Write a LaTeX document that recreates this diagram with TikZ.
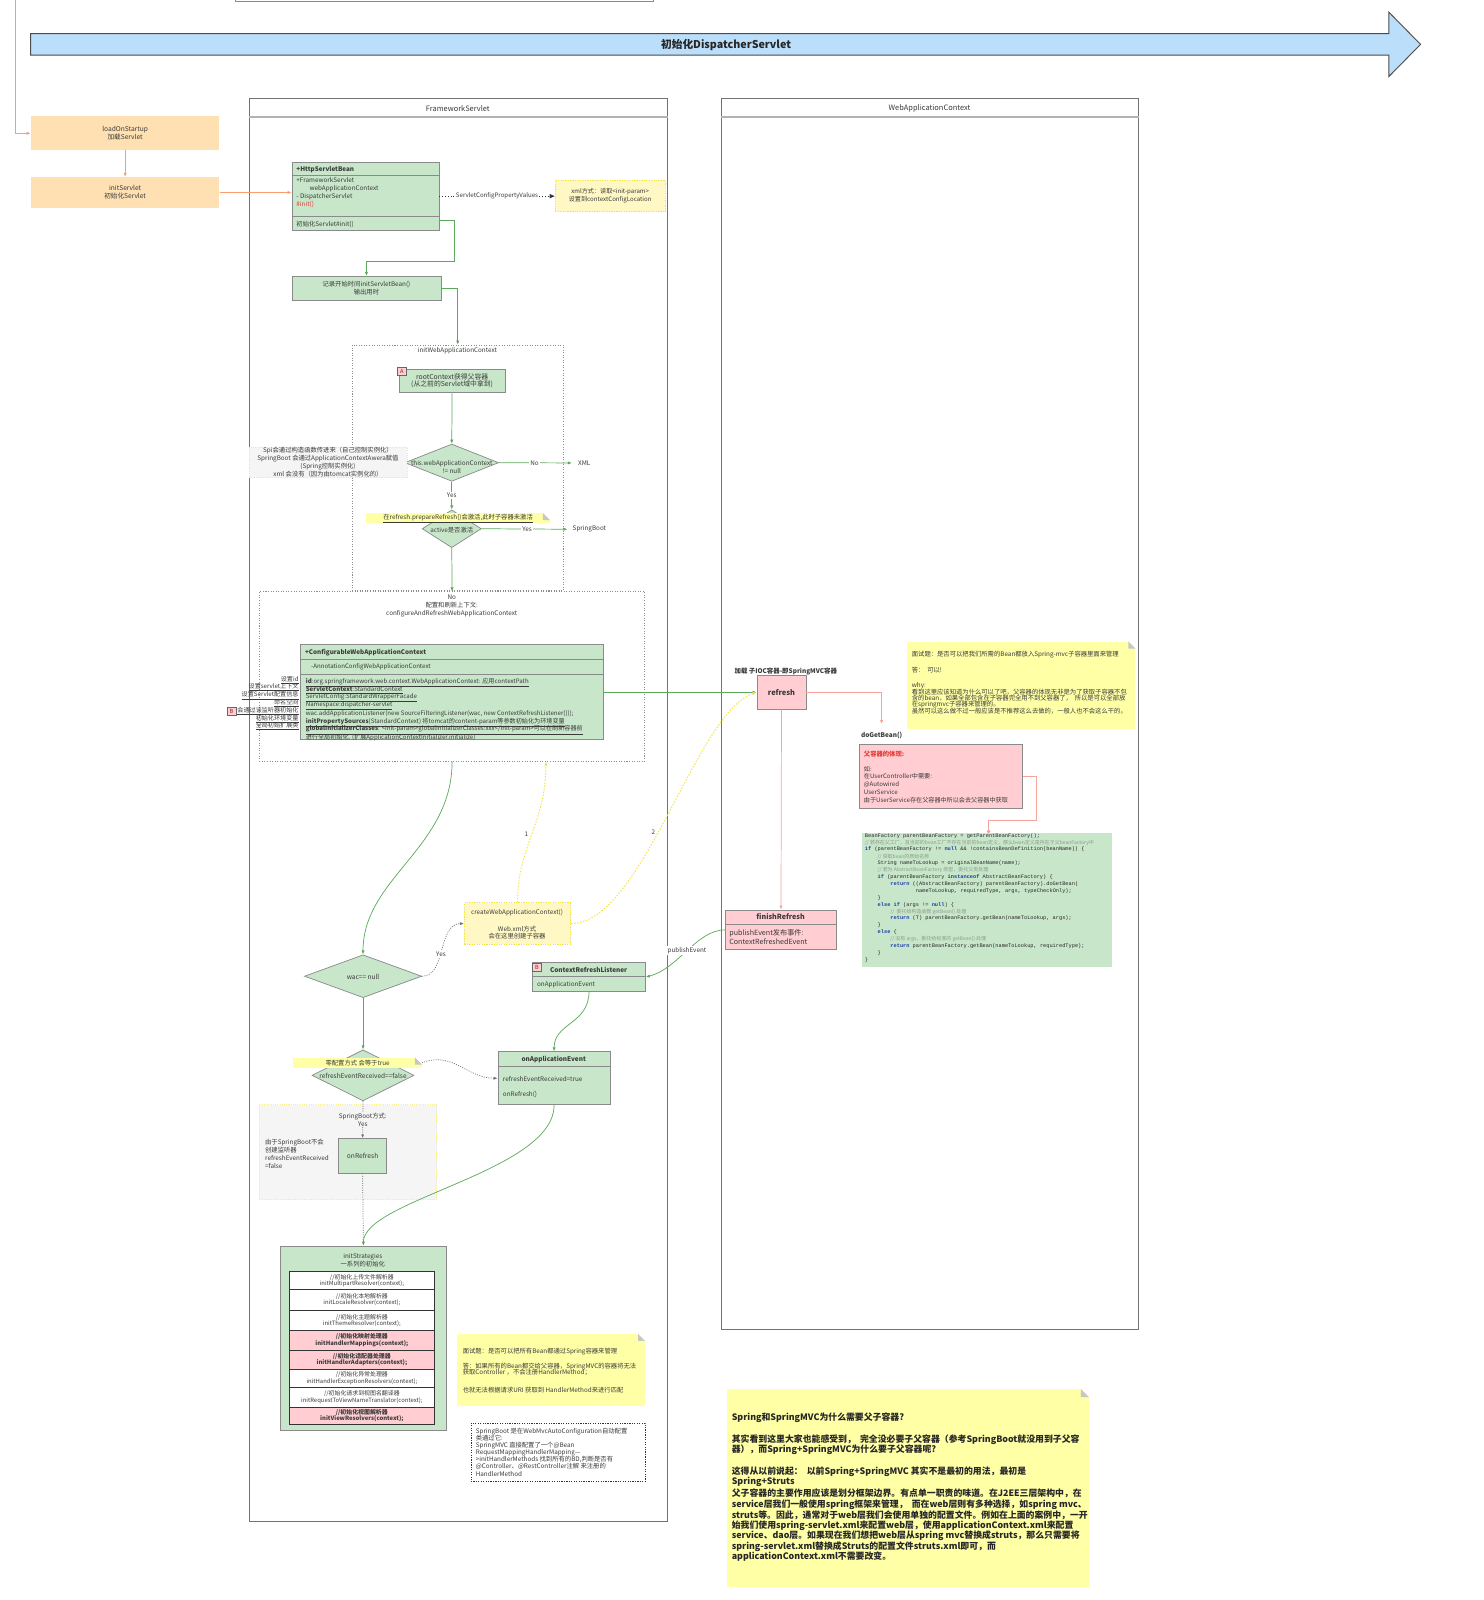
\documentclass[tikz,border=0pt]{standalone}
\usepackage{fontspec}
\setmainfont{Noto Sans CJK SC}
\newfontfamily\codefont{Liberation Mono}
\newfontfamily\cjkfont{Noto Sans CJK SC}
\usetikzlibrary{shapes.geometric,arrows.meta,calc}
\definecolor{gfill}{HTML}{C8E6C9}
\definecolor{gline}{HTML}{5BAA5B}
\definecolor{bgray}{HTML}{8A8A8A}
\definecolor{pfill}{HTML}{FFCDD2}
\definecolor{salmon}{HTML}{F5A49C}
\definecolor{ofill}{HTML}{FFE0B2}
\definecolor{oline}{HTML}{F6A071}
\definecolor{notey}{HTML}{FFFFA6}
\definecolor{bfill}{HTML}{BBDEFB}
\definecolor{ydash}{HTML}{F0E442}
\definecolor{xfill}{HTML}{FFF8C4}
\definecolor{gryfill}{HTML}{F5F5F5}
\definecolor{txt}{HTML}{3A3A3A}
\definecolor{kw}{HTML}{1A3FA8}
\definecolor{cm}{HTML}{8C9C8C}
\definecolor{redtxt}{HTML}{E53935}
\newcommand{\ckw}[1]{\textcolor{kw}{\bfseries #1}}
\newcommand{\ccm}[1]{\textcolor{cm}{\cjkfont\fontsize{4.9}{6}\selectfont #1}}
\newcommand{\notefold}[2]{%
  \fill[white] ($(#1.north east)+(-#2,0)$) -- (#1.north east) -- ($(#1.north east)+(0,#2)$) -- cycle;
  \fill[black!22] ($(#1.north east)+(-#2,0)$) -- ($(#1.north east)+(0,#2)$) -- ($(#1.north east)+(-#2,#2)$) -- cycle;}
\newcommand{\mysep}[2]{\draw[draw=bgray, line width=0.7pt] ($(#1.north west)+(0,#2)$) -- ($(#1.north east)+(0,#2)$);}
\tikzset{
  every node/.style={text=txt, inner sep=0pt, font=\fontsize{6.2}{7.8}\selectfont},
  rbox/.style={draw=bgray, line width=0.7pt, anchor=north west},
  gbox/.style={rbox, fill=gfill},
  pbox/.style={rbox, fill=pfill},
  obox/.style={anchor=north west, fill=ofill},
  ynote/.style={anchor=north west, fill=notey},
  lanebox/.style={anchor=north west, draw=black!55, line width=0.8pt},
  grp/.style={anchor=north west, draw=black!45, dash pattern=on 1pt off 1.5pt, line width=0.7pt},
  ddiam/.style={diamond, draw=bgray, fill=gfill, line width=0.7pt},
  tagbox/.style={anchor=north west, draw=black!60, fill=pfill, line width=0.5pt, minimum width=8.5pt, minimum height=8pt, font=\fontsize{5.5}{6}\selectfont, text=black!70},
  arrtip/.style={-{Latex[length=4pt,width=3.2pt]}},
  gar/.style={draw=gline, line width=0.7pt, arrtip},
  sar/.style={draw=salmon, line width=0.7pt, arrtip},
  oar/.style={draw=oline, line width=0.6pt, arrtip},
  dar/.style={draw=black!55, dash pattern=on 1pt off 1.3pt, line width=0.7pt, arrtip},
  yar/.style={draw=ydash, dash pattern=on 1.5pt off 1.5pt, line width=0.9pt, -{Latex[length=4pt,width=3.2pt]}},
  lbl/.style={fill=white, inner sep=1pt},
  cline/.style={anchor=west, font=\codefont\fontsize{5.2}{6}\selectfont, text=black!85},
  rowbox/.style={anchor=north west, draw=black!80, line width=0.6pt, fill=white, minimum width=142.5pt, align=center, font=\fontsize{5.8}{6.3}\selectfont},
  prow/.style={rowbox, fill=pfill, font=\bfseries\fontsize{5.8}{6.3}\selectfont},
  lw/.style={anchor=west},
  bignote/.style={anchor=west, font=\bfseries\fontsize{8.7}{10}\selectfont, text=black!85},
}
\begin{document}
\begin{tikzpicture}[x=1pt,y=-1pt]
\useasboundingbox (0,0) rectangle (1455,1569);
\fill[white] (0,0) rectangle (1455,1569);

% top fragment
\node[rbox, fill=white, minimum width=410pt, minimum height=10pt, anchor=south west] (topbox) at (230,2) {};

% big blue arrow
\draw[fill=bfill, draw=black!70, line width=0.9pt] (30,33) -- (1362,33) -- (1362,12) -- (1393,43.5) -- (1362,75) -- (1362,54) -- (30,54) -- cycle;
\node[font=\bfseries\fontsize{10.5}{12}\selectfont, text=black!85] (title) at (712,44) {初始化DispatcherServlet};

% lanes
\node[lanebox, minimum width=410pt, minimum height=1396pt] (fw) at (244,96) {};
\draw[black!30, line width=1.6pt] ($(fw.north west)+(0,18.6)$) -- ($(fw.north east)+(0,18.6)$);
\node[font=\fontsize{7.3}{8}\selectfont] at (449,106) {FrameworkServlet};
\node[lanebox, minimum width=409pt, minimum height=1207pt] (wl) at (707,96) {};
\draw[black!30, line width=1.6pt] ($(wl.north west)+(0,18.6)$) -- ($(wl.north east)+(0,18.6)$);
\node[font=\fontsize{7.3}{8}\selectfont] at (911.5,106) {WebApplicationContext};

% orange boxes
\node[obox, minimum width=185pt, minimum height=33pt, align=center, font=\fontsize{6.5}{7.8}\selectfont] (load) at (30,114) {loadOnStartup\\加载Servlet};
\node[obox, minimum width=185pt, minimum height=30pt, align=center, font=\fontsize{6.5}{7.8}\selectfont] (init) at (30,173.5) {initServlet\\初始化Servlet};
\coordinate (otop) at (15.3,-2);
\draw[oar] (otop) |- (load.west);
\draw[oar] (load.south) -- (init.north);

% HttpServletBean
\node[gbox, minimum width=144pt, minimum height=67pt] (hsb) at (286,158.5) {};
\mysep{hsb}{13.5}
\mysep{hsb}{54}
\node[lw, font=\bfseries\fontsize{6.2}{7}\selectfont] at (290.5,166.3) {+HttpServletBean};
\node[lw] at (290.5,177) {+FrameworkServlet};
\node[lw] at (303.3,185) {webApplicationContext};
\node[lw] at (290.5,192.8) {- DispatcherServlet};
\node[lw, text=redtxt] at (290.5,200.3) {\#init()};
\node[lw] at (290.5,220) {初始化Servlet\#init()};
\draw[oar] (init.east) -- (init.east -| hsb.west);

% xml note
\node[anchor=north west, fill=xfill, draw=ydash, dash pattern=on 1.2pt off 1.2pt, line width=0.8pt, minimum width=108pt, minimum height=30.5pt, align=center, font=\fontsize{6}{7.5}\selectfont] (xml) at (544,176.5) {xml方式：读取<init-param>\\设置到contextConfigLocation};
\draw[dotted, black!80, line width=0.8pt, -{Triangle[length=5pt,width=4pt]}] (hsb.east) -- (hsb.east -| xml.west) node[midway, lbl, font=\fontsize{6}{7}\selectfont] {ServletConfigPropertyValues};

% record box
\node[gbox, minimum width=146pt, minimum height=23.5pt, align=center, font=\fontsize{6.2}{7.9}\selectfont] (rec) at (286,270.6) {记录开始时间initServletBean()\\输出用时};
\draw[gar] ($(hsb.south east)+(0,-9.8)$) -- ++(14.7,0) -- ++(0,40.3) -| (rec.north);

% group 1
\node[grp, minimum width=207pt, minimum height=241pt] (g1) at (345,338) {};
\node at (448.5,344) {initWebApplicationContext};
\draw[gar] (rec.east) -| (g1.north);

\node[gbox, minimum width=104pt, minimum height=22.6pt, align=center, font=\fontsize{6.7}{7.3}\selectfont] (root) at (391,361.8) {rootContext获得父容器\\(从之前的Servlet域中拿到)};
\node[tagbox, text=redtxt!60!black] (tagA) at (389.5,360) {A};

\node[ddiam, minimum width=92pt, minimum height=36.5pt] (d1) at (443,453.7) {};
\node[align=center, font=\fontsize{6.2}{7.6}\selectfont] at (443,458) {this.webApplicationContext\\!= null};
\draw[gar] (root.south) -- (d1.north);

\node[anchor=north west, fill=gryfill, draw=ydash!70, dash pattern=on 1pt off 1.2pt, line width=0.6pt, minimum width=154.7pt, minimum height=30pt, align=center, font=\fontsize{6.2}{7.9}\selectfont] (spi) at (244,438) {Spi会通过构造函数传进来（自己控制实例化）\\SpringBoot 会通过ApplicationContextAwera赋值\\(Spring控制实例化)\\xml 会没有（因为由tomcat实例化的）};

\node (xmlt) at (573,454) {XML};
\draw[gar, shorten >=6pt] (d1.east) -- (xmlt.west) node[pos=0.45, lbl] {No};

\node[ddiam, minimum width=58pt, minimum height=37pt] (d2) at (443,518.5) {};
\node at (443,520) {active是否激活};
\draw[gar] (d1.south) -- (d2.north) node[midway, lbl] {Yes};
\node[anchor=north west, fill=notey, minimum width=180pt, minimum height=10pt] (band1) at (359,503) {\underline{在refresh.prepareRefresh()会激活,此时子容器未激活}};
\notefold{band1}{7}
\node (sbt) at (578,519) {SpringBoot};
\draw[gar, shorten >=5pt] (d2.east) -- (sbt.west) node[pos=0.5, lbl] {Yes};

% group 2
\node[grp, minimum width=378pt, minimum height=166pt] (g2) at (254,580) {};
\draw[gar] (d2.south) -- (g2.north);
\node[align=center, font=\fontsize{6.2}{7.6}\selectfont] at (443,594) {No\\配置和刷新上下文:\\configureAndRefreshWebApplicationContext};

\node[gbox, minimum width=297pt, minimum height=93pt] (cwac) at (294,632) {};
\mysep{cwac}{15}
\mysep{cwac}{29}
\node[lw, font=\bfseries\fontsize{6.2}{7}\selectfont] at (299,640) {+ConfigurableWebApplicationContext};
\node[lw, font=\fontsize{6}{7}\selectfont] at (305,654) {-AnnotationConfigWebApplicationContext};
\begin{scope}[every node/.append style={lw, font=\fontsize{6}{7}\selectfont}]
\node at (299.7,669) {\underline{{\bfseries id}:org.springframework.web.context.WebApplicationContext: 应用contextPath}};
\node at (299.7,676.7) {\underline{{\bfseries ServletContext}:StandardContext}};
\node at (299.7,684.5) {\underline{ServletConfig:StandardWrapperFacade}};
\node at (299.7,692.4) {\underline{Namespace:dispatcher-servlet}};
\node at (299.7,700.3) {wac.addApplicationListener(new SourceFilteringListener(wac, new ContextRefreshListener()));};
\node at (299.7,708.2) {\underline{{\bfseries initPropertySources}(StandardContext) 将tomcat的content-param等参数初始化为环境变量}};
\node at (299.7,716) {\underline{{\bfseries globalInitializerClasses}: <init-param>globalInitializerClasses:xxx</init-param>可以在刷新容器前}};
\node at (299.7,723.3) {进行全局初始化. (扩展ApplicationContextInitializer.initialize)};
\end{scope}
\begin{scope}[every node/.append style={anchor=east, font=\fontsize{6}{7}\selectfont}]
\node at (293,666.7) {\underline{设置id}};
\node at (293,674) {\underline{设置servlet上下文}};
\node at (293,682) {\underline{设置Servlet配置信息}};
\node at (293,689.3) {\underline{命名空间}};
\node at (293,697) {\underline{会通过该监听器初始化}};
\node at (293,705) {\underline{初始化环境变量}};
\node at (293,712.3) {\underline{全局初始扩展类}};
\end{scope}
\node[tagbox, text=redtxt!60!black] (tagB1) at (222.5,693) {B};

% refresh
\node[pbox, minimum width=48pt, minimum height=33pt, font=\bfseries\fontsize{7.3}{9}\selectfont] (refresh) at (742,662) {refresh};
\node[font=\bfseries\fontsize{6.3}{7}\selectfont] (refl) at (770.6,658) {加载 子IOC容器-即SpringMVC容器};
\draw[gar] (refresh.west -| cwac.east) -- (refresh.west);

\node[font=\bfseries\fontsize{6.3}{7}\selectfont] (dgbt) at (864.5,721.6) {doGetBean()};
\draw[sar, shorten >=8pt] (refresh.east) -| (dgbt.north);

\node[pbox, minimum width=160pt, minimum height=63pt] (dgb) at (842,729.4) {};
\node[lw, text=redtxt, font=\bfseries\fontsize{6.2}{7}\selectfont] at (847,739.2) {父容器的体现:};
\begin{scope}[every node/.append style={lw, font=\fontsize{6}{7}\selectfont}]
\node at (847,754.2) {如:};
\node at (847,761.6) {在UserController中需要:};
\node at (847,769.3) {@Autowired};
\node at (847,777) {UserService};
\node at (847,785) {由于UserService存在父容器中所以会去父容器中获取};
\end{scope}

% top-right note
\node[ynote, minimum width=224pt, minimum height=86pt] (n1) at (889,629) {};
\notefold{n1}{7}
\begin{scope}[every node/.append style={lw, font=\fontsize{6.2}{7}\selectfont}]
\node at (894,641.5) {面试题：是否可以把我们所需的Bean都放入Spring-mvc子容器里面来管理};
\node at (894,657.5) {答：\ \ 可以!};
\node at (894,672.5) {why:};
\node at (894,678.7) {看到这里应该知道为什么可以了吧，父容器的体现无非是为了获取子容器不包};
\node at (894,684.9) {含的bean，如果全部包含在子容器完全用不到父容器了，\ \ 所以是可以全部放};
\node at (894,691.1) {在springmvc子容器来管理的。};
\node at (894,697.3) {虽然可以这么做不过一般应该是不推荐这么去做的，一般人也不会这么干的。};
\end{scope}

% code block
\node[anchor=north west, fill=gfill, minimum width=245pt, minimum height=132pt] (code) at (845,816.5) {};
\draw[salmon, line width=0.7pt, -{Circle[length=3.5pt]}] (dgb.east) -- ++(13.8,0) -- ++(0,43.2) -- ++(-47.1,0) -- ++(0,12.6);
\begin{scope}
\clip (code.north west) rectangle (code.south east);
\node[cline] at (848,819.6) {BeanFactory parentBeanFactory = getParentBeanFactory();};
\node[cline] at (848,826.35) {\ccm{// 若存在父工厂，且当前的bean工厂不存在当前的bean定义，那么bean定义是存在于父beanFactory中}};
\node[cline] at (848,833.1) {\ckw{if} (parentBeanFactory != \ckw{null} \&\& !containsBeanDefinition(beanName)) \{};
\node[cline] at (860.5,839.85) {\ccm{// 获取bean的原始名称}};
\node[cline] at (860.5,846.6) {String nameToLookup = originalBeanName(name);};
\node[cline] at (860.5,853.35) {\ccm{// 若为 AbstractBeanFactory 类型，委托父类处理}};
\node[cline] at (860.5,860.1) {\ckw{if} (parentBeanFactory \ckw{instanceof} AbstractBeanFactory) \{};
\node[cline] at (873,866.85) {\ckw{return} ((AbstractBeanFactory) parentBeanFactory).doGetBean(};
\node[cline] at (898,873.6) {nameToLookup, requiredType, args, typeCheckOnly);};
\node[cline] at (860.5,880.35) {\}};
\node[cline] at (860.5,887.1) {\ckw{else} \ckw{if} (args != \ckw{null}) \{};
\node[cline] at (873,893.85) {\ccm{//\ \ 委托给构造函数 getBean() 处理}};
\node[cline] at (873,900.6) {\ckw{return} (T) parentBeanFactory.getBean(nameToLookup, args);};
\node[cline] at (860.5,907.35) {\}};
\node[cline] at (860.5,914.1) {\ckw{else} \{};
\node[cline] at (873,920.85) {\ccm{// 没有 args，委托给标准的 getBean() 处理}};
\node[cline] at (873,927.6) {\ckw{return} parentBeanFactory.getBean(nameToLookup, requiredType);};
\node[cline] at (860.5,934.35) {\}};
\node[cline] at (848,941.1) {\}};
\end{scope}

% finishRefresh
\node[pbox, minimum width=109pt, minimum height=39pt] (fr) at (711,892) {};
\mysep{fr}{14}
\node[font=\bfseries\fontsize{7}{8}\selectfont] at (765.5,899) {finishRefresh};
\node[lw, font=\fontsize{7}{8}\selectfont] at (715,915) {publishEvent发布事件:};
\node[lw, font=\fontsize{7}{8}\selectfont] at (715,923) {ContextRefreshedEvent};
\draw[sar] (refresh.south) -- (fr.north);

% ContextRefreshListener
\node[gbox, minimum width=110.5pt, minimum height=27.8pt] (crl) at (522,943.8) {};
\mysep{crl}{13.7}
\node[font=\bfseries\fontsize{6.3}{7}\selectfont] at (577.2,951) {ContextRefreshListener};
\node[lw] at (526.5,965.7) {onApplicationEvent};
\node[tagbox, text=redtxt!60!black] (tagB2) at (522,944.4) {B};
\draw[gar] (fr.west) .. controls +(-28,0) and +(32,-8) .. (crl.east) node[midway, lbl] {publishEvent};

% onApplicationEvent
\node[gbox, minimum width=110pt, minimum height=52pt] (oae) at (488,1031) {};
\mysep{oae}{14.8}
\node[font=\bfseries\fontsize{6.3}{7}\selectfont] at (543,1039) {onApplicationEvent};
\node[lw] at (493,1057.8) {refreshEventReceived=true};
\node[lw] at (493,1072.9) {onRefresh()};
\draw[gar] (crl.south) .. controls +(0,32) and +(0,-28) .. (oae.north);

% wac diamond
\node[ddiam, minimum width=115pt, minimum height=42pt] (wac) at (356,957.3) {};
\node[font=\fontsize{6.4}{7}\selectfont] at (356,958.2) {wac== null};
\draw[gar] (g2.south) .. controls +(0,85) and +(0,-75) .. (wac.north);

% createWebApplicationContext
\node[anchor=north west, fill=xfill, draw=ydash, dash pattern=on 1.2pt off 1.2pt, line width=0.9pt, minimum width=104pt, minimum height=40.5pt] (cw) at (455,885) {};
\node at (507,895.4) {createWebApplicationContext()};
\node at (507,911) {Web.xml方式};
\node at (507,918.3) {会在这里创建子容器};
\draw[dar] (wac.east) .. controls +(24,0) and +(-26,0) .. (cw.west) node[pos=0.45, lbl] {Yes};
\draw[yar] (cw.north) .. controls +(0,-55) and +(0,60) .. ($(g2.south)+(92,0)$) node[pos=0.5, left=3pt] {1};
\draw[yar] (cw.east) .. controls +(70,0) and +(-60,20) .. (refresh.west) node[pos=0.45, left=3pt] {2};

% refreshEventReceived diamond
\node[ddiam, minimum width=100pt, minimum height=50pt] (d3) at (356,1054.5) {};
\node[font=\fontsize{6.4}{7}\selectfont] at (356,1055.2) {refreshEventReceived==false};
\draw[gar] (wac.south) -- (d3.north);
\node[anchor=north west, fill=notey, minimum width=125.8pt, minimum height=10pt] (band2) at (287.6,1037) {零配置方式 会等于true};
\notefold{band2}{7}
\draw[dar] (band2.east) .. controls +(30,-12) and +(-30,0) .. (oae.west);

% SpringBoot group
\node[anchor=north west, fill=gryfill, draw=ydash!60, dash pattern=on 1pt off 1.2pt, line width=0.6pt, minimum width=174pt, minimum height=93pt] (g3) at (254,1083) {};
\node[gbox, minimum width=47.5pt, minimum height=34pt, font=\fontsize{6.5}{7}\selectfont] (onref) at (331.5,1116) {onRefresh};
\draw[draw=black!55, dash pattern=on 1pt off 1.3pt, line width=0.7pt, -{Latex[length=3.5pt,width=3pt]}] (d3.south) -- (onref.north) node[pos=0.5, fill=gryfill, inner sep=0.5pt, align=center, font=\fontsize{6.2}{8}\selectfont] {SpringBoot方式:\\Yes};
\node[anchor=west, align=left, font=\fontsize{6.2}{7.6}\selectfont] at (259.8,1131.4) {由于SpringBoot不会\\创建监听器\\refreshEventReceived\\=false};

% initStrategies
\node[gbox, minimum width=163pt, minimum height=181pt] (inits) at (274.5,1221.6) {};
\node[align=center, font=\fontsize{6.2}{6.6}\selectfont] at (355.75,1235.8) {initStrategies\\一系列的初始化};
\draw[draw=black!55, dash pattern=on 1pt off 1.3pt, line width=0.7pt] (onref.south) -- (inits.north);
\draw[gar] (oae.south) .. controls +(0,65) and +(0,-45) .. (inits.north);
\node[rowbox, minimum height=17.3pt] (r1) at (283.3,1246.7) {//初始化上传文件解析器\\initMultipartResolver(context);};
\node[rowbox, minimum height=20.3pt] (r2) at (283.3,1264) {//初始化本地解析器\\initLocaleResolver(context);};
\node[rowbox, minimum height=20.3pt] (r3) at (283.3,1284.3) {//初始化主题解析器\\initThemeResolver(context);};
\node[prow, minimum height=18.9pt] (r4) at (283.3,1304.6) {//初始化映射处理器\\initHandlerMappings(context);};
\node[prow, minimum height=19pt] (r5) at (283.3,1323.5) {//初始化适配器处理器\\initHandlerAdapters(context);};
\node[rowbox, minimum height=17.6pt] (r6) at (283.3,1342.5) {//初始化异常处理器\\initHandlerExceptionResolvers(context);};
\node[rowbox, minimum height=19.4pt] (r7) at (283.3,1360.1) {//初始化请求到视图名翻译器\\initRequestToViewNameTranslator(context);};
\node[prow, minimum height=16.5pt] (r8) at (283.3,1379.5) {//初始化视图解析器\\initViewResolvers(context);};

% note 2
\node[ynote, minimum width=184pt, minimum height=70.4pt] (n2) at (448.3,1308) {};
\notefold{n2}{7}
\begin{scope}[every node/.append style={lw, font=\fontsize{6.2}{7}\selectfont}]
\node at (453.6,1325.8) {面试题：是否可以把所有Bean都通过Spring容器来管理};
\node at (453.6,1340) {答：如果所有的Bean都交给父容器，SpringMVC的容器将无法};
\node at (453.6,1346.2) {获取Controller ，不会注册HandlerMethod；};
\node at (453.6,1363.4) {也就无法根据请求URI 获取到 HandlerMethod来进行匹配};
\end{scope}

% SpringBoot dashed note
\node[anchor=north west, draw=black!80, dash pattern=on 1.2pt off 1.2pt, line width=0.7pt, fill=white, minimum width=171pt, minimum height=57pt] (sbn) at (461.4,1395.4) {};
\begin{scope}[every node/.append style={lw, font=\fontsize{6.2}{7}\selectfont}]
\node at (466.4,1403.6) {SpringBoot 是在WebMvcAutoConfiguration自动配置};
\node at (466.4,1410.5) {类通过它:};
\node at (466.4,1417.4) {SpringMVC 直接配置了一个@Bean};
\node at (466.4,1424.3) {RequestMappingHandlerMapping---};
\node at (466.4,1431.2) {>initHandlerMethods 找到所有的BD,判断是否有};
\node at (466.4,1438.1) {@Controller、@RestController注解 来注册的};
\node at (466.4,1445) {HandlerMethod};
\end{scope}

% bottom note
\node[ynote, minimum width=355pt, minimum height=194pt] (n3) at (712.4,1362) {};
\notefold{n3}{8}
\node[bignote] at (717.4,1390.5) {Spring和SpringMVC为什么需要父子容器?};
\node[bignote] at (717.4,1411.8) {其实看到这里大家也能感受到，\ \ 完全没必要子父容器（参考SpringBoot就没用到子父容};
\node[bignote] at (717.4,1421.9) {器），而Spring+SpringMVC为什么要子父容器呢?};
\node[bignote] at (717.4,1442.8) {这得从以前说起：\ \ 以前Spring+SpringMVC 其实不是最初的用法，最初是};
\node[bignote] at (717.4,1453.3) {Spring+Struts};
\node[bignote] at (717.4,1464.7) {父子容器的主要作用应该是划分框架边界。有点单一职责的味道。在J2EE三层架构中，在};
\node[bignote] at (717.4,1475.2) {service层我们一般使用spring框架来管理，\ \ 而在web层则有多种选择，如spring mvc、};
\node[bignote] at (717.4,1485.6) {struts等。因此，通常对于web层我们会使用单独的配置文件。例如在上面的案例中，一开};
\node[bignote] at (717.4,1495.9) {始我们使用spring-servlet.xml来配置web层，使用applicationContext.xml来配置};
\node[bignote] at (717.4,1506.2) {service、dao层。如果现在我们想把web层从spring mvc替换成struts，那么只需要将};
\node[bignote] at (717.4,1516.5) {spring-servlet.xml替换成Struts的配置文件struts.xml即可，而};
\node[bignote] at (717.4,1526.8) {applicationContext.xml不需要改变。};
\end{tikzpicture}
\end{document}
